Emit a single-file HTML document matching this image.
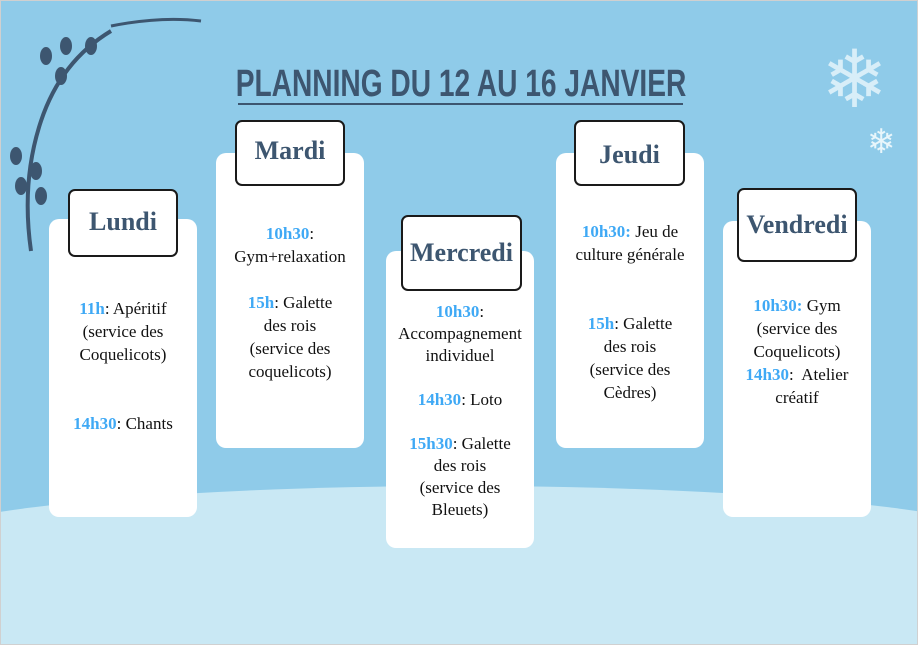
<!DOCTYPE html><html><head><style>
body{margin:0;width:918px;height:645px;overflow:hidden;font-family:"Liberation Serif",serif}
#p{position:relative;width:916px;height:643px;border:1px solid #d0d0d0;background:#8fcbe9;overflow:hidden}
.snow{position:absolute;left:-100px;top:485px;width:1120px;height:158px;border-radius:50% 50% 0 0/60px 60px 0 0;background:#c9e8f4}
.c{position:absolute;background:#fff;border-radius:10px;text-align:center;font-size:17px;line-height:23px;color:#111}
.h{position:absolute;background:#fff;border:2px solid #1a1a1a;border-radius:7px;text-align:center;font-weight:bold;font-size:26px;color:#3d5670;box-sizing:border-box;font-family:"Liberation Serif",serif}
b{color:#3fa9f5}
.t{position:absolute;left:237px;top:62px;width:445px;height:40px;border-bottom:2px solid #3d5670}
.t span{position:absolute;left:50%;top:0;white-space:nowrap;font:bold 38px "Liberation Sans",sans-serif;color:#3d5670;line-height:42px;transform:translateX(-50%) scaleX(0.74)}
</style></head><body><div id="p">
<div class="snow"></div>
<svg style="position:absolute;left:0;top:0" width="220" height="260"><path d="M110 30 Q60 60 40 120 Q20 180 30 250" stroke="#3d5670" stroke-width="4" fill="none"/><path d="M110 25 Q160 15 200 20" stroke="#3d5670" stroke-width="3" fill="none"/>
<g fill="#3d5670"><ellipse cx="45" cy="55" rx="6" ry="9"/><ellipse cx="65" cy="45" rx="6" ry="9"/><ellipse cx="90" cy="45" rx="6" ry="9"/><ellipse cx="60" cy="75" rx="6" ry="9"/><ellipse cx="15" cy="155" rx="6" ry="9"/><ellipse cx="35" cy="170" rx="6" ry="9"/><ellipse cx="20" cy="185" rx="6" ry="9"/><ellipse cx="40" cy="195" rx="6" ry="9"/></g></svg>
<div style="position:absolute;left:820px;top:40px;font-size:80px;color:#d8eef8;line-height:80px">❄</div>
<div style="position:absolute;left:866px;top:125px;font-size:34px;color:#e8f6fb;line-height:34px">❄</div>
<div class="t"><span>PLANNING DU 12 AU 16 JANVIER</span></div>
<div class="c" style="left:48px;top:218px;width:148px;height:298px"><div style="margin-top:78px"><b>11h</b>: Apéritif<br>(service des<br>Coquelicots)<br><br><br><b>14h30</b>: Chants</div></div>
<div class="h" style="left:67px;top:188px;width:110px;height:68px;line-height:62px">Lundi</div>
<div class="c" style="left:215px;top:152px;width:148px;height:295px"><div style="margin-top:69px"><b>10h30</b>:<br>Gym+relaxation<br><br><b>15h</b>: Galette<br>des rois<br>(service des<br>coquelicots)</div></div>
<div class="h" style="left:234px;top:119px;width:110px;height:66px;line-height:58px">Mardi</div>
<div class="c" style="left:385px;top:250px;width:148px;height:297px"><div style="margin-top:50px;line-height:22px"><b>10h30</b>:<br>Accompagnement<br>individuel<br><br><b>14h30</b>: Loto<br><br><b>15h30</b>: Galette<br>des rois<br>(service des<br>Bleuets)</div></div>
<div class="h" style="left:400px;top:214px;width:121px;height:76px;line-height:72px">Mercredi</div>
<div class="c" style="left:555px;top:152px;width:148px;height:295px"><div style="margin-top:67px"><b>10h30:</b> Jeu de<br>culture générale<br><br><br><b>15h</b>: Galette<br>des rois<br>(service des<br>Cèdres)</div></div>
<div class="h" style="left:573px;top:119px;width:111px;height:66px;line-height:66px">Jeudi</div>
<div class="c" style="left:722px;top:220px;width:148px;height:296px"><div style="margin-top:73px"><b>10h30:</b> Gym<br>(service des<br>Coquelicots)<br><b>14h30</b>:&nbsp; Atelier<br>créatif</div></div>
<div class="h" style="left:736px;top:187px;width:120px;height:74px;line-height:70px">Vendredi</div>
</div></body></html>
